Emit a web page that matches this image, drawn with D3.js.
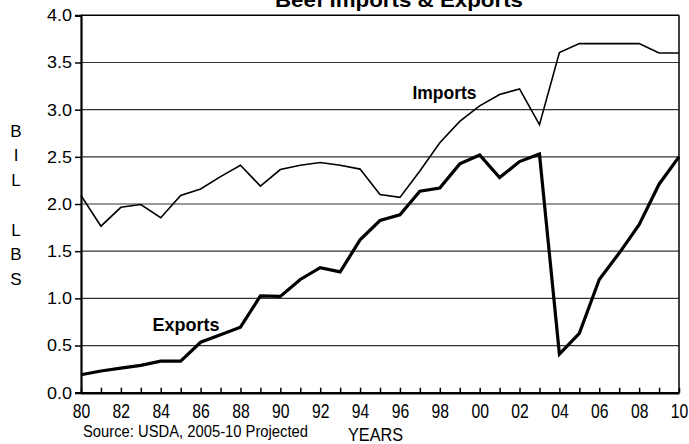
<!DOCTYPE html>
<html>
<head>
<meta charset="utf-8">
<script src="https://cdn.jsdelivr.net/npm/d3@7"></script>
<style>
  body { margin: 0; background: #fff; }
  svg { display: block; font-family: "Liberation Sans", Arial, sans-serif; }
</style>
</head>
<body>
<div id="chart"></div>
<script>
var width = 689;
var height = 444;

// years 1980..2010 (2000+ written as 100+)
var years = d3.range(80, 111);
var imports = [2.09, 1.765, 1.965, 1.995, 1.855, 2.09, 2.16, 2.29, 2.41, 2.19,
               2.365, 2.41, 2.44, 2.41, 2.37, 2.10, 2.07, 2.35, 2.65, 2.875,
               3.04, 3.16, 3.22, 2.84, 3.605, 3.70, 3.70, 3.70, 3.70, 3.60, 3.60];
var exports = [0.19, 0.23, 0.26, 0.29, 0.335, 0.335, 0.535, 0.615, 0.695, 1.025,
               1.02, 1.20, 1.325, 1.28, 1.62, 1.825, 1.885, 2.135, 2.17, 2.425,
               2.52, 2.28, 2.45, 2.53, 0.41, 0.63, 1.20, 1.48, 1.78, 2.21, 2.50];
var yTicks = [0, 0.5, 1, 1.5, 2, 2.5, 3, 3.5, 4];
var yTitle = ["B", "I", "L", "", "L", "B", "S"];

var svg = d3.select("#chart").append("svg")
    .attr("width", width).attr("height", height);

var x = d3.scaleLinear().domain([80, 110]).range([81, 679]);
var y = d3.scaleLinear().domain([0, 4]).range([392.7, 15.3]);

// grid lines
svg.append("g").selectAll("line")
    .data(yTicks.filter(function(d){ return d > 0 && d < 4; }))
    .enter().append("line")
    .attr("x1", x(80)).attr("x2", x(110))
    .attr("y1", function(d){ return y(d); })
    .attr("y2", function(d){ return y(d); })
    .attr("stroke", "#333").attr("stroke-width", 1.2);

// frame top and right
svg.append("line").attr("x1", x(80)).attr("x2", x(110))
    .attr("y1", y(4)).attr("y2", y(4)).attr("stroke", "#000").attr("stroke-width", 1.5);
svg.append("line").attr("x1", x(110)).attr("x2", x(110))
    .attr("y1", y(4)).attr("y2", y(0)).attr("stroke", "#000").attr("stroke-width", 1.5);

// y axis
var yAxis = svg.append("g")
    .attr("transform", "translate(" + x(80) + ",0)")
    .call(d3.axisLeft(y).tickValues(yTicks).tickFormat(d3.format(".1f"))
        .tickSize(6).tickPadding(3));
yAxis.select(".domain").attr("stroke-width", 2.2);
yAxis.selectAll(".tick line").attr("stroke-width", 1.5);
yAxis.selectAll("text").attr("font-size", 17).attr("fill", "#000")
    .attr("textLength", 25).attr("lengthAdjust", "spacingAndGlyphs");

// x axis
var xAxis = svg.append("g")
    .attr("transform", "translate(0," + y(0) + ")")
    .call(d3.axisBottom(x).tickValues(years)
        .tickFormat(function(d){ return d % 2 == 0 ? d3.format("02")(d % 100) : ""; })
        .tickSize(-5).tickSizeOuter(0).tickPadding(11));
xAxis.select(".domain").attr("stroke-width", 2.5);
xAxis.selectAll(".tick line").attr("stroke-width", 1.5);
xAxis.selectAll("text").attr("font-size", 20).attr("fill", "#000")
    .filter(function(d){ return d % 2 == 0; })
    .attr("textLength", 17.5).attr("lengthAdjust", "spacingAndGlyphs");

// lines
var line = function(vals) {
  return d3.line()
    .x(function(d, i){ return x(years[i]); })
    .y(function(d){ return y(d); })(vals);
};
svg.append("path").attr("d", line(imports))
    .attr("fill", "none").attr("stroke", "#000").attr("stroke-width", 1.6)
    .attr("stroke-linejoin", "miter");
svg.append("path").attr("d", line(exports))
    .attr("fill", "none").attr("stroke", "#000").attr("stroke-width", 3.2)
    .attr("stroke-linejoin", "miter");

// labels
svg.append("text").attr("x", 412.5).attr("y", 99).text("Imports")
    .attr("font-size", 18).attr("font-weight", "bold")
    .attr("textLength", 64).attr("lengthAdjust", "spacingAndGlyphs");
svg.append("text").attr("x", 152.5).attr("y", 331).text("Exports")
    .attr("font-size", 18).attr("font-weight", "bold")
    .attr("textLength", 67).attr("lengthAdjust", "spacingAndGlyphs");

// title (clipped at top like the original)
svg.append("text").attr("x", 275).attr("y", 7).text("Beef Imports & Exports")
    .attr("font-size", 21).attr("font-weight", "bold")
    .attr("textLength", 248).attr("lengthAdjust", "spacingAndGlyphs");

// y title stacked letters
svg.append("g").selectAll("text").data(yTitle).enter().append("text")
    .attr("x", 16).attr("y", function(d, i){ return 136.7 + i * 24.7; })
    .attr("text-anchor", "middle").attr("font-size", 17)
    .text(function(d){ return d; });

// source and years
svg.append("text").attr("x", 83).attr("y", 437).text("Source: USDA, 2005-10 Projected")
    .attr("font-size", 16)
    .attr("textLength", 225).attr("lengthAdjust", "spacingAndGlyphs");
svg.append("text").attr("x", 348).attr("y", 441).text("YEARS")
    .attr("font-size", 18)
    .attr("textLength", 55).attr("lengthAdjust", "spacingAndGlyphs");
</script>
</body>
</html>
